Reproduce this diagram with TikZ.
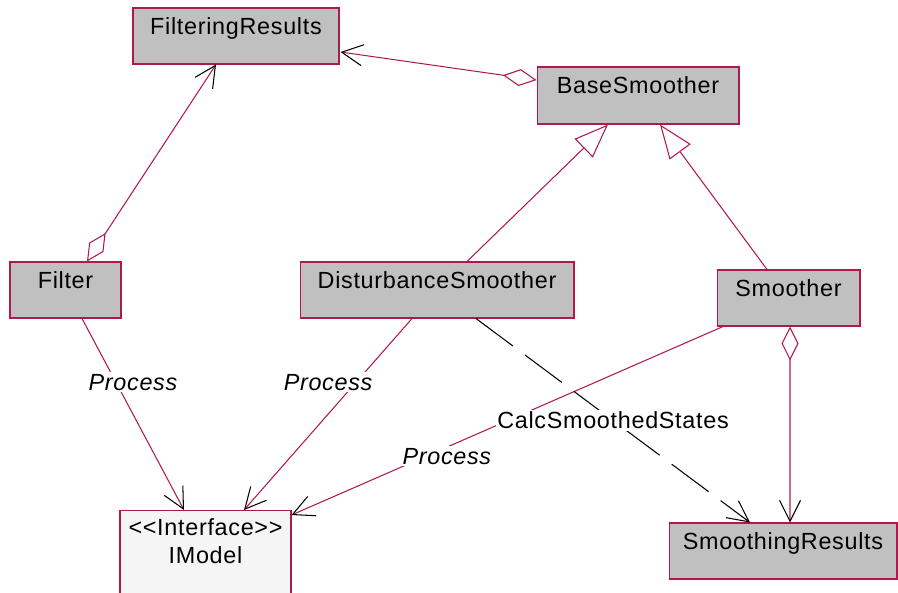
\documentclass[tikz,border=0pt]{standalone}
\usepackage{fontspec}
\newfontfamily\umlfont{Liberation Sans}[LetterSpace=3]
\usetikzlibrary{arrows.meta,calc}
\definecolor{umlred}{RGB}{176,24,80}
\definecolor{classgray}{RGB}{192,192,192}
\definecolor{ifacegray}{RGB}{245,245,245}
\tikzset{
  classbox/.style={draw=umlred, fill=classgray, line width=0.6pt, inner xsep=0pt, inner ysep=0.1cm,
    text height=0.42cm, text depth=0.5cm, minimum height=1.12cm},
  ifacebox/.style={draw=umlred, fill=ifacegray, line width=0.6pt, inner xsep=0pt, inner ysep=0.1cm,
    text height=0.4cm, text depth=1.2cm},
  assoc/.style={draw=umlred, line width=0.6pt},
  depend/.style={draw=black, line width=0.6pt, dash pattern=on 0.92cm off 0.3cm},
  nav/.style={arrows={-Straight Barb[length=0.42cm,width=0.42cm,color=black]}},
  agg/.style={arrows={Diamond[open,length=0.68cm,width=0.34cm]-Straight Barb[length=0.42cm,width=0.42cm,color=black]}},
  gen/.style={arrows={-Triangle[open,length=0.68cm,width=0.52cm]}},
  lbl/.style={fill=white, inner sep=1pt, font=\umlfont\itshape\fontsize{13.3}{16}\selectfont},
  oplbl/.style={fill=white, inner sep=1pt},
}
\begin{document}
\begin{tikzpicture}[x=0.02cm, y=-0.02cm, font=\umlfont\fontsize{13.3}{16}\selectfont]
\useasboundingbox (0,0) rectangle (898,592);

% Drawing classes
\node[classbox, minimum width=4.12cm] (fres) at (236,36) {FilteringResults};
\node[classbox, minimum width=4.04cm, minimum height=1.14cm] (base) at (638,95.5) {BaseSmoother};
\node[classbox, minimum width=2.22cm] (filter) at (65.5,290) {Filter};
\node[classbox, minimum width=5.48cm] (dist) at (437,290) {DisturbanceSmoother};
\node[classbox, minimum width=2.86cm] (smoother) at (788.5,298) {Smoother};
\node[classbox, minimum width=4.56cm] (sres) at (783,551) {SmoothingResults};

% Drawing interface IModel
\node[ifacebox, minimum width=3.42cm, anchor=north] (imodel) at (205.5,510)
  {\begin{tabular}[t]{@{}c@{}}<<Interface>>\\IModel\end{tabular}};

% Drawing aggregations
\draw[assoc, agg] ($(filter.north)+(21.5,0)$) -- ($(fres.south)+(-20,0)$);
\draw[assoc, agg] ($(base.west)+(0,-15.5)$) -- ($(fres.east)+(1,16)$);
\draw[assoc, agg] ($(smoother.south)+(1.5,0)$) -- ($(sres.north)+(7,0)$);

% Drawing generalizations
\draw[assoc, gen] ($(dist.north)+(30,0)$) -- ($(base.south)+(-30,0)$);
\draw[assoc, gen] ($(smoother.north)+(-21.5,0)$) -- ($(base.south)+(22,0)$);

% Drawing Process calls
\draw[assoc, nav] ($(filter.south)+(16.5,0)$) -- node[lbl, pos=0.333, xshift=0.34cm] {Process} ($(imodel.north)+(-21.5,0)$);
\draw[assoc, nav] ($(dist.south)+(-25,0)$) -- node[lbl, pos=0.333, xshift=-0.56cm] {Process} ($(imodel.north)+(38.5,0)$);
\draw[assoc, nav] ($(smoother.south)+(-65.5,0)$) -- node[lbl, pos=0.64, yshift=-0.18cm] {Process} ($(imodel.north east)+(0,5)$);

% Drawing dependency
\draw[depend, nav] ($(dist.south)+(39,0)$) -- node[oplbl, pos=0.5] {CalcSmoothedStates} ($(sres.north)+(-33,0)$);
\end{tikzpicture}
\end{document}
